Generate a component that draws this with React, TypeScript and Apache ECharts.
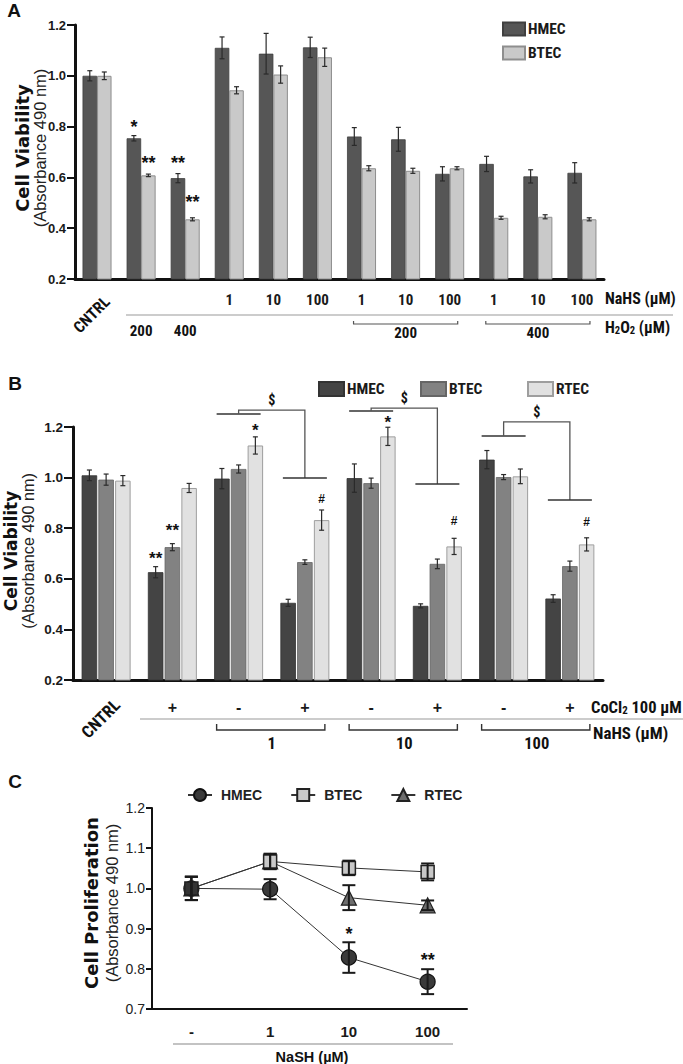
import React, { useEffect, useRef } from 'react';
import * as echarts from 'echarts';

const FONT = "'Liberation Sans', Arial, Helvetica, sans-serif";
const NARROW = "'Liberation Sans Narrow', 'Arial Narrow', 'Roboto Condensed', 'Liberation Sans', sans-serif";
const TITLE_FONT = "'DejaVu Sans', Verdana, sans-serif";

// ---------------- Panel A ----------------
const categoriesA = ['CNTRL', 'H2O2 200', 'H2O2 400', 'NaHS 1', 'NaHS 10', 'NaHS 100', '200+1', '200+10', '200+100', '400+1', '400+10', '400+100'];
const tickLabelsA = ['', '', '', '1', '10', '100', '1', '10', '100', '1', '10', '100'];
const h2o2LabelsA = ['', '200', '400', '', '', '', '', '', '', '', '', ''];
const hmecA = [1.0, 0.754, 0.597, 1.11, 1.087, 1.112, 0.761, 0.75, 0.614, 0.653, 0.604, 0.618];
const hmecErrA = [0.02, 0.0105, 0.018, 0.043, 0.08, 0.04, 0.035, 0.047, 0.028, 0.03, 0.026, 0.04];
const btecA = [1.0, 0.608, 0.435, 0.943, 1.005, 1.073, 0.636, 0.626, 0.636, 0.441, 0.445, 0.435];
const btecErrA = [0.015, 0.005, 0.006, 0.014, 0.034, 0.036, 0.01, 0.01, 0.006, 0.006, 0.008, 0.006];
const groupsA = [
  { label: '200', from: 6, to: 8 },
  { label: '400', from: 9, to: 11 },
];
const notesA = [
  { cat: 1, s: 0, t: '*', y: 0.814 },
  { cat: 1, s: 1, t: '**', y: 0.672 },
  { cat: 2, s: 0, t: '**', y: 0.672 },
  { cat: 2, s: 1, t: '**', y: 0.519 },
];

// ---------------- Panel B ----------------
const categoriesB = ['CNTRL', 'CoCl2', 'NaHS1 -', 'NaHS1 +', 'NaHS10 -', 'NaHS10 +', 'NaHS100 -', 'NaHS100 +'];
const tickLabelsB = ['', '+', '-', '+', '-', '+', '-', '+'];
const hmecB = [1.009, 0.626, 0.996, 0.505, 0.998, 0.493, 1.071, 0.522];
const hmecErrB = [0.021, 0.022, 0.04, 0.014, 0.056, 0.008, 0.036, 0.015];
const btecB = [0.992, 0.725, 1.034, 0.666, 0.978, 0.659, 1.002, 0.65];
const btecErrB = [0.022, 0.014, 0.016, 0.009, 0.02, 0.019, 0.01, 0.02];
const rtecB = [0.988, 0.959, 1.127, 0.832, 1.163, 0.728, 1.005, 0.736];
const rtecErrB = [0.02, 0.018, 0.034, 0.04, 0.036, 0.032, 0.029, 0.026];
const groupsB = [
  { label: '1', from: 2, to: 3 },
  { label: '10', from: 4, to: 5 },
  { label: '100', from: 6, to: 7 },
];
const bracketsB = [
  { from: 2, to: 3, left: 1.251, top: 1.267, right: 0.998 },
  { from: 4, to: 5, left: 1.263, top: 1.275, right: 0.975 },
  { from: 6, to: 7, left: 1.164, top: 1.22, right: 0.911 },
];
const notesB = [
  { cat: 1, s: 0, t: '**', y: 0.694 },
  { cat: 1, s: 1, t: '**', y: 0.805 },
  { cat: 2, s: 2, t: '*', y: 1.2 },
  { cat: 3, s: 2, t: '#', y: 0.915 },
  { cat: 4, s: 2, t: '*', y: 1.232 },
  { cat: 5, s: 2, t: '#', y: 0.828 },
  { cat: 7, s: 2, t: '#', y: 0.825 },
];

// ---------------- Panel C ----------------
const categoriesC = ['-', '1', '10', '100'];
const hmecC = [1.0, 0.998, 0.828, 0.768];
const hmecErrC = [0.029, 0.025, 0.038, 0.031];
const btecC = [1.0, 1.067, 1.051, 1.041];
const btecErrC = [0.029, 0.019, 0.018, 0.021];
const rtecC = [1.0, 1.067, 0.977, 0.958];
const rtecErrC = [0.029, 0.019, 0.031, 0.012];
const notesC = [
  { cat: 2, s: 0, t: '*', y: 0.897 },
  { cat: 3, s: 0, t: '**', y: 0.832 },
];

function errSeries(g: number, vals: number[], errs: number[], offset: number, cap: number, color: string, lw: number, z = 5) {
  return {
    type: 'custom',
    xAxisIndex: g,
    yAxisIndex: g,
    z,
    silent: true,
    clip: false,
    data: vals.map((v, i) => [i, v - errs[i], v + errs[i]]),
    encode: { x: 0, y: [1, 2] },
    renderItem: (params: any, api: any) => {
      const lo = api.coord([api.value(0), api.value(1)]);
      const hi = api.coord([api.value(0), api.value(2)]);
      const x = lo[0] + offset;
      const style = { stroke: color, lineWidth: lw };
      return {
        type: 'group',
        children: [
          { type: 'line', shape: { x1: x, y1: lo[1], x2: x, y2: hi[1] }, style },
          { type: 'line', shape: { x1: x - cap, y1: lo[1], x2: x + cap, y2: lo[1] }, style },
          { type: 'line', shape: { x1: x - cap, y1: hi[1], x2: x + cap, y2: hi[1] }, style },
        ],
      };
    },
  };
}

function noteSeries(g: number, notes: any[], offsets: number[], fontSize: number) {
  return {
    type: 'custom',
    xAxisIndex: g,
    yAxisIndex: g,
    z: 6,
    silent: true,
    clip: false,
    data: notes.map((n) => [n.cat, n.y]),
    encode: { x: 0, y: 1 },
    renderItem: (params: any, api: any) => {
      const n = notes[params.dataIndex];
      const p = api.coord([api.value(0), api.value(1)]);
      const isStar = n.t.indexOf('*') >= 0;
      const fs = isStar ? fontSize : 12;
      return {
        type: 'text',
        x: p[0] + offsets[n.s],
        y: p[1] + (isStar ? fs * 0.22 : 0),
        style: {
          text: n.t,
          fontSize: fs,
          fontWeight: 'bold',
          fontFamily: FONT,
          fill: '#111',
          align: 'center',
          verticalAlign: 'middle',
        },
      };
    },
  };
}

const axisLabelBold = { fontFamily: FONT, fontWeight: 'bold', color: '#1a1a1a' };
const legendText = { fontFamily: NARROW, fontWeight: 'bold', fontSize: 15.5, color: '#1a1a1a', padding: [0, 0, 0, -2] };

function buildOption() {
  const barOffA = 14.5 / 2;
  const bwB = 15.5;
  const spB = bwB * 1.08;
  return {
    animation: false,
    grid: [
      { left: 75, top: 25, width: 529, height: 254 },
      { left: 73, top: 427, width: 530, height: 253 },
      { left: 152, top: 808, width: 315, height: 201 },
    ],
    legend: [
      {
        data: ['A-HMEC', 'A-BTEC'],
        orient: 'vertical',
        left: 497,
        top: 16,
        itemWidth: 22,
        itemHeight: 13,
        itemGap: 8,
        icon: 'rect',
        formatter: (n: string) => n.slice(2),
        textStyle: legendText,
        selectedMode: false,
      },
      ...['HMEC', 'BTEC', 'RTEC'].map((n, i) => ({
        data: ['B-' + n],
        left: [313, 415, 522][i],
        top: 376,
        itemWidth: 25,
        itemHeight: 14,
        icon: 'rect',
        formatter: (s: string) => s.slice(2),
        textStyle: legendText,
        selectedMode: false,
      })),
      {
        data: ['C-HMEC', 'C-BTEC', 'C-RTEC'],
        left: 182,
        top: 783,
        itemWidth: 24,
        itemHeight: 15,
        itemGap: 28,
        formatter: (s: string) => s.slice(2),
        textStyle: { fontFamily: FONT, fontWeight: 'bold', fontSize: 14, color: '#222', padding: [0, 0, 0, 4] },
        selectedMode: false,
      },
    ],
    xAxis: [
      {
        gridIndex: 0,
        type: 'category',
        data: categoriesA,
        axisLine: { lineStyle: { color: '#111', width: 3 } },
        axisTick: { alignWithLabel: true, length: 7, lineStyle: { color: '#111', width: 3 } },
        axisLabel: { ...axisLabelBold, fontFamily: NARROW, interval: 0, fontSize: 15, margin: 13, formatter: (v: string, i: number) => tickLabelsA[i] },
      },
      {
        gridIndex: 1,
        type: 'category',
        data: categoriesB,
        axisLine: { lineStyle: { color: '#111', width: 3 } },
        axisTick: { alignWithLabel: true, length: 7, lineStyle: { color: '#111', width: 3 } },
        axisLabel: { ...axisLabelBold, interval: 0, fontSize: 16, margin: 19, formatter: (v: string, i: number) => tickLabelsB[i] },
      },
      {
        gridIndex: 2,
        type: 'category',
        data: categoriesC,
        axisLine: { lineStyle: { color: '#111', width: 2 } },
        axisTick: { alignWithLabel: true, length: 6, lineStyle: { color: '#111', width: 2 } },
        axisLabel: { ...axisLabelBold, interval: 0, fontSize: 15, margin: 15 },
      },
    ],
    yAxis: [
      {
        gridIndex: 0,
        type: 'value',
        min: 0.2,
        max: 1.2,
        interval: 0.2,
        axisLine: { show: true, lineStyle: { color: '#111', width: 3 } },
        axisTick: { show: true, length: 8, lineStyle: { color: '#111', width: 2 } },
        splitLine: { show: false },
        axisLabel: { ...axisLabelBold, fontSize: 13, margin: 9, formatter: (v: number) => v.toFixed(1) },
      },
      {
        gridIndex: 1,
        type: 'value',
        min: 0.2,
        max: 1.2,
        interval: 0.2,
        axisLine: { show: true, lineStyle: { color: '#111', width: 3 } },
        axisTick: { show: true, length: 9, lineStyle: { color: '#111', width: 2 } },
        splitLine: { show: false },
        axisLabel: { ...axisLabelBold, fontSize: 13.5, margin: 10, formatter: (v: number) => v.toFixed(1) },
      },
      {
        gridIndex: 2,
        type: 'value',
        min: 0.7,
        max: 1.2,
        interval: 0.1,
        axisLine: { show: true, lineStyle: { color: '#111', width: 2 } },
        axisTick: { show: true, length: 6, lineStyle: { color: '#111', width: 2 } },
        splitLine: { show: false },
        axisLabel: { fontFamily: FONT, fontSize: 14, color: '#222', margin: 7, formatter: (v: number) => v.toFixed(1) },
      },
    ],
    series: [
      // Panel A bars
      { type: 'bar', name: 'A-HMEC', xAxisIndex: 0, yAxisIndex: 0, data: hmecA, barWidth: 14.5, barGap: '0%', itemStyle: { color: '#565656', borderColor: '#404040', borderWidth: 0.8 } },
      { type: 'bar', name: 'A-BTEC', xAxisIndex: 0, yAxisIndex: 0, data: btecA, barWidth: 14.5, barGap: '0%', itemStyle: { color: '#c9c9c9', borderColor: '#8e8e8e', borderWidth: 1 } },
      errSeries(0, hmecA, hmecErrA, -barOffA, 2.5, '#2a2a2a', 1.2),
      errSeries(0, btecA, btecErrA, barOffA, 2.5, '#2a2a2a', 1.2),
      noteSeries(0, notesA, [-barOffA, barOffA], 18),
      // Panel B bars
      { type: 'bar', name: 'B-HMEC', xAxisIndex: 1, yAxisIndex: 1, data: hmecB, barWidth: bwB, barGap: '8%', itemStyle: { color: '#444444', borderColor: '#333333', borderWidth: 0.8 } },
      { type: 'bar', name: 'B-BTEC', xAxisIndex: 1, yAxisIndex: 1, data: btecB, barWidth: bwB, barGap: '8%', itemStyle: { color: '#828282', borderColor: '#666666', borderWidth: 0.8 } },
      { type: 'bar', name: 'B-RTEC', xAxisIndex: 1, yAxisIndex: 1, data: rtecB, barWidth: bwB, barGap: '8%', itemStyle: { color: '#e1e1e1', borderColor: '#9e9e9e', borderWidth: 1 } },
      errSeries(1, hmecB, hmecErrB, -spB, 2.5, '#2a2a2a', 1.2),
      errSeries(1, btecB, btecErrB, 0, 2.5, '#2a2a2a', 1.2),
      errSeries(1, rtecB, rtecErrB, spB, 2.5, '#2a2a2a', 1.2),
      noteSeries(1, notesB, [-spB, 0, spB], 17),
      // Panel C lines
      {
        type: 'line', name: 'C-RTEC', xAxisIndex: 2, yAxisIndex: 2, data: rtecC, symbol: 'triangle', symbolSize: 15,
        itemStyle: { color: '#6e6e6e', borderColor: '#222', borderWidth: 1.2 }, lineStyle: { color: '#333', width: 1 }, z: 2,
      },
      {
        type: 'line', name: 'C-HMEC', xAxisIndex: 2, yAxisIndex: 2, data: hmecC, symbol: 'circle', symbolSize: 15,
        itemStyle: { color: '#3a3a3a', borderColor: '#111', borderWidth: 1.2 }, lineStyle: { color: '#333', width: 1 }, z: 3,
      },
      {
        type: 'line', name: 'C-BTEC', xAxisIndex: 2, yAxisIndex: 2,
        data: btecC.map((v, i) => (i === 0 ? { value: v, itemStyle: { color: '#333' } } : v)),
        symbol: 'rect', symbolSize: 13,
        itemStyle: { color: '#c8c8c8', borderColor: '#222', borderWidth: 1.5 }, lineStyle: { color: '#333', width: 1 }, z: 4,
      },
      errSeries(2, hmecC, hmecErrC, 0, 6.5, '#1a1a1a', 2, 8),
      errSeries(2, btecC, btecErrC, 0, 6.5, '#1a1a1a', 2, 8),
      errSeries(2, rtecC, rtecErrC, 0, 6.5, '#1a1a1a', 2, 8),
      noteSeries(2, notesC, [0], 18),
    ],
  };
}

function buildGraphics(chart: any) {
  const g: any[] = [];
  const px = (k: number, c: number, v: number) => chart.convertToPixel({ xAxisIndex: k, yAxisIndex: k }, [c, v]);
  const text = (x: number, y: number, t: string, style: any, extra: any = {}) =>
    g.push({ type: 'text', x, y, silent: true, ...extra, style: { text: t, fontFamily: FONT, fill: '#111', ...style } });
  const line = (x1: number, y1: number, x2: number, y2: number, color = '#111', lw = 1) =>
    g.push({ type: 'line', silent: true, shape: { x1, y1, x2, y2 }, style: { stroke: color, lineWidth: lw } });
  const poly = (pts: number[][], color = '#111', lw = 1) =>
    g.push({ type: 'polyline', silent: true, shape: { points: pts }, style: { stroke: color, lineWidth: lw, fill: 'none' } });

  const boldC = { fontWeight: 'bold', align: 'center', verticalAlign: 'middle' };
  const narrowC = { fontFamily: NARROW, fontWeight: 'bold', align: 'center', verticalAlign: 'middle' };
  const subRich = (size: number) => ({
    n: { fontFamily: NARROW, fontWeight: 'bold', fontSize: size, fill: '#111', lineHeight: 18 },
    s: { fontFamily: NARROW, fontWeight: 'bold', fontSize: size * 0.66, fill: '#111', lineHeight: 11, verticalAlign: 'bottom' },
  });

  // Panel letters
  text(14, 10, 'A', { ...boldC, fontSize: 19 });
  text(15, 383, 'B', { ...boldC, fontSize: 19 });
  text(15, 781, 'C', { ...boldC, fontSize: 19 });

  // Y titles
  const yTitle = (x1: number, x2: number, y: number, t: string, s1: number, s2: number) => {
    text(x1, y, t, { fontFamily: TITLE_FONT, fontWeight: 'bold', fontSize: s1, align: 'center', verticalAlign: 'middle' }, { rotation: Math.PI / 2 });
    text(x2, y, '(Absorbance 490 nm)', { fontSize: s2, align: 'center', verticalAlign: 'middle', fill: '#222' }, { rotation: Math.PI / 2 });
  };
  yTitle(22, 40, 148, 'Cell Viability', 18, 16.5);
  yTitle(11, 28, 551, 'Cell Viability', 17, 16.2);
  yTitle(91, 112, 903, 'Cell Proliferation', 18, 16.5);

  // ---- Panel A extras
  const axA = px(0, 0, 0.2)[1];
  const tA = (i: number) => px(0, i, 0.2)[0];
  text(tA(0) + 10, axA + 20, 'CNTRL', { fontFamily: NARROW, fontWeight: 'bold', fontSize: 16, align: 'right', verticalAlign: 'middle' }, { rotation: Math.PI / 4 });
  h2o2LabelsA.forEach((t, i) => { if (t) text(tA(i), axA + 52, t, { ...narrowC, fontSize: 15 }); });
  text(605, axA + 19, 'NaHS (µM)', { fontFamily: NARROW, fontWeight: 'bold', fontSize: 16, align: 'left', verticalAlign: 'middle' });
  line(126, axA + 36, 673, axA + 36, '#9a9a9a', 1.2);
  text(605, axA + 48, '{n|H}{s|2}{n|O}{s|2}{n| (µM)}', { align: 'left', verticalAlign: 'middle', rich: subRich(16) });
  groupsA.forEach((gr) => {
    const x1 = tA(gr.from) - 8;
    const x2 = tA(gr.to) + 8;
    const y = axA + 45;
    poly([[x1, y - 3], [x1, y], [x2, y], [x2, y - 3]], '#555', 1.2);
    text((tA(gr.from) + tA(gr.to)) / 2, axA + 54, gr.label, { ...narrowC, fontSize: 15 });
  });

  // ---- Panel B extras
  const axB = px(1, 0, 0.2)[1];
  const tB = (i: number) => px(1, i, 0.2)[0];
  text(tB(0) + 11, axB + 22, 'CNTRL', { fontFamily: NARROW, fontWeight: 'bold', fontSize: 17, align: 'right', verticalAlign: 'middle' }, { rotation: Math.PI / 4 });
  line(140, axB + 39, 683, axB + 39, '#9a9a9a', 1.2);
  text(591, axB + 27, '{n|CoCl}{s|2}{n| 100 µM}', { align: 'left', verticalAlign: 'middle', rich: subRich(16.5) });
  text(593, axB + 53, 'NaHS (µM)', { fontFamily: NARROW, fontWeight: 'bold', fontSize: 17, align: 'left', verticalAlign: 'middle' });
  groupsB.forEach((gr) => {
    const x1 = tB(gr.from) - 22;
    const x2 = tB(gr.to) + 20;
    const y = axB + 50;
    poly([[x1, y - 6], [x1, y], [x2, y], [x2, y - 6]], '#333', 1.4);
    text((tB(gr.from) + tB(gr.to)) / 2, axB + 63, gr.label, { ...narrowC, fontSize: 16.5 });
  });
  bracketsB.forEach((b) => {
    const L = px(1, b.from, b.left);
    const T = px(1, b.from, b.top);
    const R = px(1, b.to, b.right);
    line(L[0] - 22, L[1], L[0] + 22, L[1], '#333', 1.5);
    poly([[L[0], L[1]], [L[0], T[1]], [R[0], T[1]], [R[0], R[1]]], '#555', 1.3);
    line(R[0] - 22, R[1], R[0] + 22, R[1], '#333', 1.5);
    text((L[0] + R[0]) / 2, T[1] - 10, '$', { fontFamily: NARROW, fontWeight: 'bold', align: 'center', verticalAlign: 'middle', fontSize: 14, fill: '#111' });
  });

  // ---- Panel C extras
  const axC = px(2, 0, 0.7)[1];
  line(173, axC + 35, 453, axC + 35, '#888', 1.2);
  text(312, axC + 48, 'NaSH (µM)', { ...boldC, fontSize: 14.5 });

  return g;
}

export default function App() {
  const ref = useRef<HTMLDivElement>(null);
  useEffect(() => {
    const el = ref.current;
    if (!el) return;
    const chart = echarts.init(el, null, { renderer: 'svg' });
    chart.setOption(buildOption() as any);
    chart.setOption({ graphic: buildGraphics(chart) } as any);
    return () => chart.dispose();
  }, []);
  return <div ref={ref} style={{ position: 'absolute', left: 0, top: 0, width: 683, height: 1064, background: '#fff' }} />;
}
